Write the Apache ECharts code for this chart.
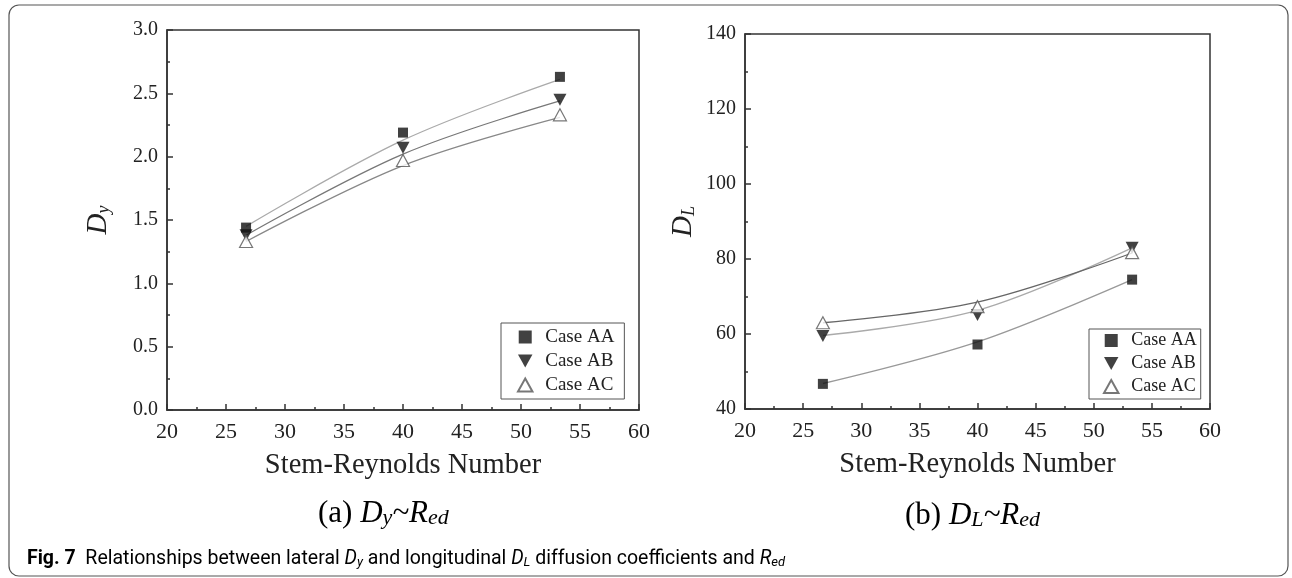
<!DOCTYPE html>
<html>
<head>
<meta charset="utf-8">
<script src="https://cdn.jsdelivr.net/npm/echarts@6/dist/echarts.min.js"></script>
<style>
html, body { margin: 0; padding: 0; background: #fff; }
#main { width: 1292px; height: 578px; }
</style>
</head>
<body>
<div id="main"></div>
<script>
// Stem-Reynolds numbers of the three runs
var reynolds = [26.7, 40, 53.3];
var caseNames = ['Case AA', 'Case AB', 'Case AC'];

// (a) lateral diffusion coefficient Dy, measured points
var dyAA = [1.44, 2.19, 2.63];
var dyAB = [1.38, 2.07, 2.45];
var dyAC = [1.33, 1.97, 2.33];
// fitted curves
var dyFitAA = [1.45, 2.13, 2.61];
var dyFitAB = [1.38, 2.02, 2.44];
var dyFitAC = [1.33, 1.93, 2.31];

// (b) longitudinal diffusion coefficient DL, measured points
var dlAA = [46.7, 57.2, 74.5];
var dlAB = [59.5, 65.1, 83.0];
var dlAC = [63.0, 67.3, 81.7];
// fitted curves
var dlFitAA = [46.8, 57.9, 74.5];
var dlFitAB = [59.6, 66.3, 83.0];
var dlFitAC = [63.0, 68.5, 81.6];

var serif = 'Liberation Serif';
var ink = '#222';

function pairs(ys) {
    var out = [];
    for (var i = 0; i < reynolds.length; i++) out.push([reynolds[i], ys[i]]);
    return out;
}

// square, down triangle, hollow up triangle (paths so the legend keeps their aspect)
var symbols = ['path://M0,0 H10 V10 H0 Z', 'path://M0,0 L10,0 L5,9 Z', 'path://M5,0 L10,9 L0,9 Z'];
var symbolSizes = [[10, 10], [13, 12], [13, 12]];
var markerStyles = [
    { color: '#111' },
    { color: '#111' },
    { color: '#fff', borderColor: '#555', borderWidth: 1.2 }
];

function scatter(idx, name, ys) {
    var k = caseNames.indexOf(name);
    return {
        type: 'scatter', name: name, xAxisIndex: idx, yAxisIndex: idx,
        symbol: symbols[k], symbolSize: symbolSizes[k],
        itemStyle: markerStyles[k],
        data: pairs(ys), z: 5
    };
}

function curve(idx, ys, color) {
    return {
        type: 'line', xAxisIndex: idx, yAxisIndex: idx, smooth: 0.35,
        showSymbol: false, silent: true,
        lineStyle: { color: color, width: 1.3 },
        data: pairs(ys), z: 3
    };
}

function xAxis(idx) {
    return {
        type: 'value', gridIndex: idx, min: 20, max: 60, interval: 5,
        name: 'Stem-Reynolds Number', nameLocation: 'middle', nameGap: 41,
        nameTextStyle: { fontFamily: serif, fontSize: 28.5, color: ink },
        axisLine: { lineStyle: { color: '#333', width: 1.5 } },
        axisTick: { inside: true, length: 6, lineStyle: { color: '#333', width: 1.5 } },
        minorTick: { show: true, splitNumber: 2, length: 3, lineStyle: { color: '#333', width: 1.5 } },
        splitLine: { show: false },
        axisLabel: { fontFamily: serif, fontSize: 22, color: ink, margin: 11 }
    };
}

function yAxis(idx, min, max, step, label, gap, fmt) {
    return {
        type: 'value', gridIndex: idx, min: min, max: max, interval: step,
        name: label, nameLocation: 'middle', nameRotate: 90, nameGap: gap,
        nameTextStyle: {
            rich: {
                i: { fontFamily: serif, fontStyle: 'italic', fontSize: 29, color: ink, verticalAlign: 'bottom', lineHeight: 32 },
                s: { fontFamily: serif, fontStyle: 'italic', fontSize: 18, color: ink, verticalAlign: 'bottom', lineHeight: 14 }
            }
        },
        axisLine: { lineStyle: { color: '#333', width: 1.5 } },
        axisTick: { inside: true, length: 6, lineStyle: { color: '#333', width: 1.5 } },
        minorTick: { show: true, splitNumber: 2, length: 3, lineStyle: { color: '#333', width: 1.5 } },
        splitLine: { show: false },
        axisLabel: { fontFamily: serif, fontSize: 20, color: ink, margin: 9, formatter: fmt }
    };
}

function legend(idx, left, top, size, gap, pad) {
    return {
        seriesIndex: idx,
        data: caseNames.map(function (n) { return { name: n }; }),
        orient: 'vertical', left: left, top: top,
        itemWidth: 30, itemHeight: 13, itemGap: gap,
        symbolKeepAspect: true,
        padding: pad, borderColor: '#555', borderWidth: 1,
        backgroundColor: '#fff',
        textStyle: { fontFamily: serif, fontSize: size, color: ink, lineHeight: size + 1 }
    };
}

var myChart = echarts.init(document.getElementById('main'));

var subRich = {
    n: { fontFamily: serif, fontSize: 31, color: ink, verticalAlign: 'bottom', lineHeight: 35 },
    i: { fontFamily: serif, fontStyle: 'italic', fontSize: 31, color: ink, verticalAlign: 'bottom', lineHeight: 35 },
    s: { fontFamily: serif, fontStyle: 'italic', fontSize: 22, color: ink, verticalAlign: 'bottom', lineHeight: 16 }
};
var capFont = 'Roboto';
var capRich = {
    b: { fontFamily: capFont, fontWeight: 'bold', fontSize: 19.5, color: '#222', verticalAlign: 'bottom', lineHeight: 24 },
    t: { fontFamily: capFont, fontSize: 19.5, color: '#333', verticalAlign: 'bottom', lineHeight: 24 },
    i: { fontFamily: capFont, fontStyle: 'italic', fontSize: 19.5, color: '#333', verticalAlign: 'bottom', lineHeight: 24 },
    s: { fontFamily: capFont, fontStyle: 'italic', fontSize: 13, color: '#333', verticalAlign: 'bottom', lineHeight: 14 }
};

var option = {
    animation: false,
    backgroundColor: '#fff',
    grid: [
        { left: 167, top: 30, width: 472, height: 380, show: true, borderColor: '#333', borderWidth: 1.5 },
        { left: 745, top: 34, width: 465, height: 375, show: true, borderColor: '#333', borderWidth: 1.5 }
    ],
    xAxis: [xAxis(0), xAxis(1)],
    yAxis: [
        yAxis(0, 0, 3, 0.5, '{i|D}{s|y}', 54, function (v) { return v.toFixed(1); }),
        yAxis(1, 40, 140, 20, '{i|D}{s|L}', 47)
    ],
    legend: [
        legend([0, 1, 2], 501, 323, 19, 4, [4, 10, 4, 16]),
        legend([6, 7, 8], 1089, 329, 18, 4, [2, 4, 3, 14])
    ],
    graphic: [
        {
            type: 'rect', silent: true, z: 0,
            shape: { x: 9, y: 5, width: 1279, height: 571, r: 10 },
            style: { fill: null, stroke: '#555', lineWidth: 1.2 }
        },
        {
            type: 'text', left: 318, top: 498,
            style: { text: '{n|(a) }{i|D}{s|y}{i|~R}{s|ed}', rich: subRich }
        },
        {
            type: 'text', left: 905, top: 500,
            style: { text: '{n|(b) }{i|D}{s|L}{i|~R}{s|ed}', rich: subRich }
        },
        {
            type: 'text', left: 27, top: 549,
            style: {
                text: '{b|Fig. 7}{t|  Relationships between lateral }{i|D}{s|y}{t| and longitudinal }{i|D}{s|L}{t| diffusion coefficients and }{i|R}{s|ed}',
                rich: capRich
            }
        }
    ],
    series: [
        scatter(0, 'Case AA', dyAA),
        scatter(0, 'Case AB', dyAB),
        scatter(0, 'Case AC', dyAC),
        curve(0, dyFitAA, '#aaa'),
        curve(0, dyFitAB, '#777'),
        curve(0, dyFitAC, '#888'),
        scatter(1, 'Case AA', dlAA),
        scatter(1, 'Case AB', dlAB),
        scatter(1, 'Case AC', dlAC),
        curve(1, dlFitAA, '#999'),
        curve(1, dlFitAB, '#aaa'),
        curve(1, dlFitAC, '#666')
    ]
};

myChart.setOption(option);
</script>
</body>
</html>
